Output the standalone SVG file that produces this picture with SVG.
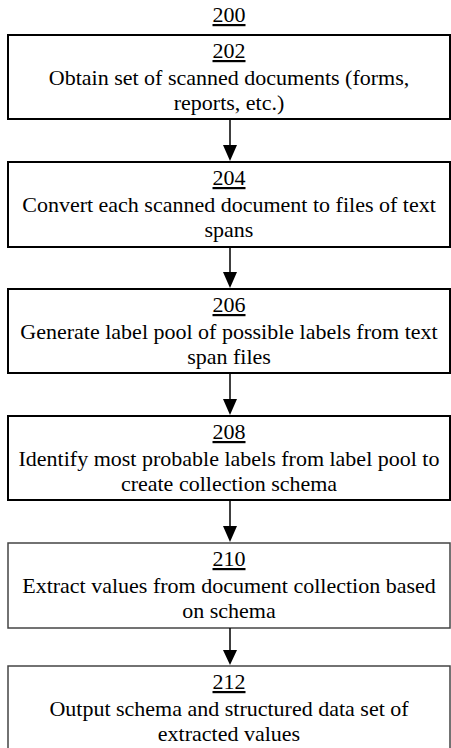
<svg xmlns="http://www.w3.org/2000/svg" width="451" height="748" viewBox="0 0 451 748">
<style>
.u{text-decoration:underline}
.box{fill:#fff;stroke:#000;stroke-width:2}
.box2{fill:#fff;stroke:#444;stroke-width:1.5}
.conn line{stroke:#000;stroke-width:1.5}
</style>
<g font-family="Liberation Serif, Times New Roman, serif" font-size="22" fill="#000" text-anchor="middle">
<g id="title"><text x="229" y="22" class="u">200</text></g>
<g id="n202">
<rect class="box" x="8" y="35" width="442" height="84"/>
<text x="229" y="58" class="u">202</text>
<text x="229" y="85">Obtain set of scanned documents (forms,</text>
<text x="229" y="110">reports, etc.)</text>
</g>
<g id="n204">
<rect class="box" x="8" y="162" width="442" height="85"/>
<text x="229" y="185" class="u">204</text>
<text x="229" y="212">Convert each scanned document to files of text</text>
<text x="229" y="237">spans</text>
</g>
<g id="n206">
<rect class="box" x="8" y="289" width="442" height="84"/>
<text x="229" y="312" class="u">206</text>
<text x="229" y="339">Generate label pool of possible labels from text</text>
<text x="229" y="364">span files</text>
</g>
<g id="n208">
<rect class="box" x="8" y="416" width="442" height="84"/>
<text x="229" y="439" class="u">208</text>
<text x="229" y="466">Identify most probable labels from label pool to</text>
<text x="229" y="491">create collection schema</text>
</g>
<g id="n210">
<rect class="box2" x="8" y="543" width="442" height="85"/>
<text x="229" y="566" class="u">210</text>
<text x="229" y="593">Extract values from document collection based</text>
<text x="229" y="618">on schema</text>
</g>
<g id="n212">
<rect class="box2" x="8" y="666" width="442" height="100"/>
<text x="229" y="689" class="u">212</text>
<text x="229" y="716">Output schema and structured data set of</text>
<text x="229" y="741">extracted values</text>
</g>
</g>
<g id="connectors" class="conn">
<line x1="230" y1="119" x2="230" y2="145"/>
<path d="M223,145 L237,145 L230,161 Z"/>
<line x1="230" y1="247" x2="230" y2="272"/>
<path d="M223,272 L237,272 L230,288 Z"/>
<line x1="230" y1="373" x2="230" y2="399"/>
<path d="M223,399 L237,399 L230,415 Z"/>
<line x1="230" y1="500" x2="230" y2="526"/>
<path d="M223,526 L237,526 L230,542 Z"/>
<line x1="230" y1="628" x2="230" y2="650"/>
<path d="M223,650 L237,650 L230,665 Z"/>
</g>
</svg>
